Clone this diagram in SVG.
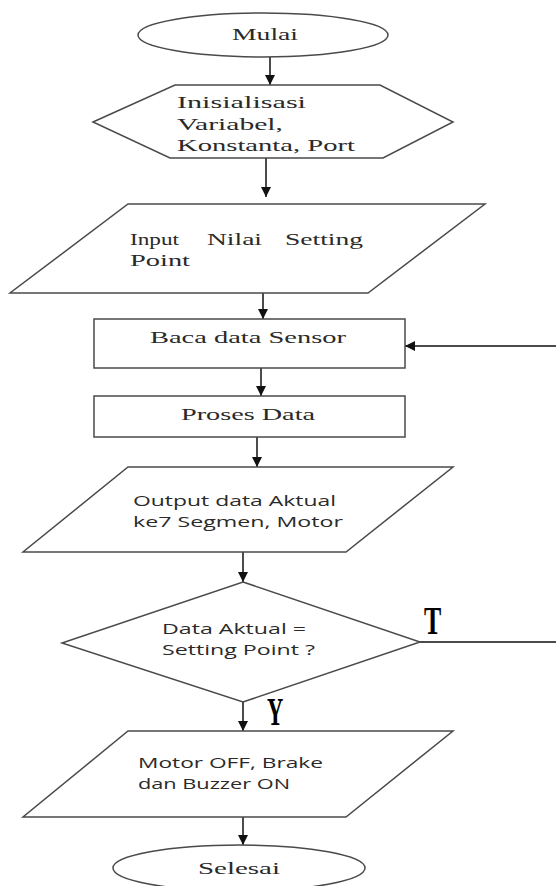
<svg xmlns="http://www.w3.org/2000/svg" width="556" height="886" viewBox="0 0 556 886">
<style>
.shape{fill:#fff;stroke:#4a4a4a;stroke-width:1.5}
.conn{fill:none;stroke:#111;stroke-width:1.5}
.serif{font-family:"Liberation Serif","Times New Roman",serif;font-size:17px;fill:#2a2a2a}
.sans{font-family:"Open Sans","Liberation Sans",Arial,sans-serif;font-size:15px;fill:#2a2a2a}
.lbl{font-family:"Liberation Serif","Times New Roman",serif;font-weight:bold;font-size:41px;fill:#000}
</style>
<defs>
<marker id="arr" markerUnits="userSpaceOnUse" markerWidth="10" markerHeight="10" refX="10" refY="5" orient="auto">
<path d="M0,0 L10,5 L0,10 z" fill="#111"/>
</marker>
</defs>
<rect width="556" height="886" fill="#fff"/>
<g id="connectors">
<line class="conn" x1="270" y1="57" x2="270" y2="85" marker-end="url(#arr)"/>
<line class="conn" x1="266" y1="158" x2="266" y2="197" marker-end="url(#arr)"/>
<line class="conn" x1="263" y1="293" x2="263" y2="319" marker-end="url(#arr)"/>
<line class="conn" x1="261" y1="368" x2="261" y2="396" marker-end="url(#arr)"/>
<line class="conn" x1="257" y1="437" x2="257" y2="467" marker-end="url(#arr)"/>
<line class="conn" x1="243" y1="552" x2="243" y2="582" marker-end="url(#arr)"/>
<line class="conn" x1="243" y1="702" x2="243" y2="731" marker-end="url(#arr)"/>
<line class="conn" x1="243" y1="817" x2="243" y2="845" marker-end="url(#arr)"/>
<polyline class="conn" points="420,642 558,642 558,346 405,346" marker-end="url(#arr)"/>
</g>
<g id="mulai">
<ellipse class="shape" cx="263" cy="35" rx="125" ry="22"/>
<text class="serif" x="232" y="40" textLength="66" lengthAdjust="spacingAndGlyphs">Mulai</text>
</g>
<g id="inisialisasi">
<polygon class="shape" points="93,122 175,85 380,85 453,122 383,158 170,158"/>
<text class="serif" x="177" y="108" textLength="129" lengthAdjust="spacingAndGlyphs">Inisialisasi</text>
<text class="serif" x="177" y="130" textLength="106" lengthAdjust="spacingAndGlyphs">Variabel,</text>
<text class="serif" x="177" y="151" textLength="178" lengthAdjust="spacingAndGlyphs">Konstanta, Port</text>
</g>
<g id="input">
<polygon class="shape" points="128,204 485,204 368,293 10,293"/>
<text class="serif" y="245"><tspan x="130" textLength="49" lengthAdjust="spacingAndGlyphs">Input</tspan> <tspan x="207" textLength="55" lengthAdjust="spacingAndGlyphs">Nilai</tspan> <tspan x="285" textLength="78" lengthAdjust="spacingAndGlyphs">Setting</tspan></text>
<text class="serif" x="130" y="266" textLength="60" lengthAdjust="spacingAndGlyphs">Point</text>
</g>
<g id="baca">
<rect class="shape" x="94" y="319" width="311" height="49"/>
<text class="serif" x="150" y="343" textLength="196" lengthAdjust="spacingAndGlyphs">Baca data Sensor</text>
</g>
<g id="proses">
<rect class="shape" x="94" y="396" width="311" height="41"/>
<text class="serif" x="181" y="420" textLength="134" lengthAdjust="spacingAndGlyphs">Proses Data</text>
</g>
<g id="output">
<polygon class="shape" points="128,467 453,467 346,552 23,552"/>
<text class="sans" x="133" y="506" textLength="203" lengthAdjust="spacingAndGlyphs">Output data Aktual</text>
<text class="sans" x="133" y="527" textLength="210" lengthAdjust="spacingAndGlyphs">ke7 Segmen, Motor</text>
</g>
<g id="decision">
<polygon class="shape" points="243,582 420,642 243,702 62,643"/>
<text class="sans" x="162" y="634" textLength="144" lengthAdjust="spacingAndGlyphs">Data Aktual =</text>
<text class="sans" x="162" y="655" textLength="153" lengthAdjust="spacingAndGlyphs">Setting Point ?</text>
<text class="lbl" transform="translate(424,634) scale(0.63,1)">T</text>
<text class="lbl" transform="translate(267,725) scale(0.55,1)">Y</text>
</g>
<g id="motor">
<polygon class="shape" points="128,731 453,731 346,817 23,817"/>
<text class="sans" x="138" y="768" textLength="185" lengthAdjust="spacingAndGlyphs">Motor OFF, Brake</text>
<text class="sans" x="138" y="789" textLength="152" lengthAdjust="spacingAndGlyphs">dan Buzzer ON</text>
</g>
<g id="selesai">
<ellipse class="shape" cx="239" cy="868" rx="126" ry="23"/>
<text class="serif" x="198" y="874" textLength="82" lengthAdjust="spacingAndGlyphs">Selesai</text>
</g>
</svg>
